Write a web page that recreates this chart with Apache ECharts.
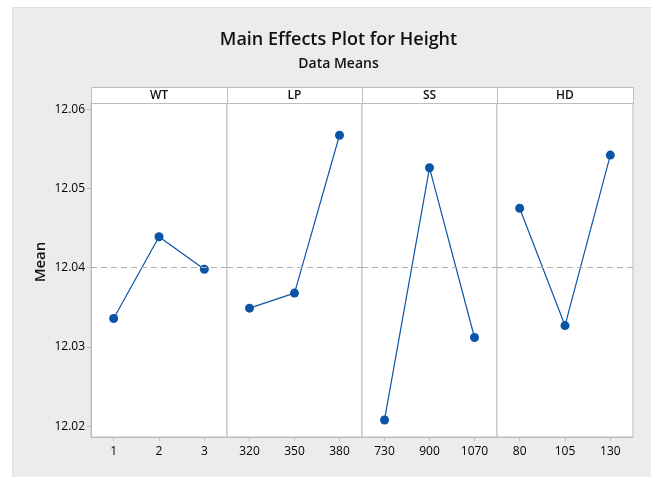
<!DOCTYPE html>
<html>
<head>
<meta charset="utf-8">
<script src="https://cdn.jsdelivr.net/npm/echarts@6/dist/echarts.min.js"></script>
<style>
  html, body { margin: 0; padding: 0; background: #ffffff; }
  #chart { width: 651px; height: 477px; }
</style>
</head>
<body>
<div id="chart"></div>
<script>
// Factors and their levels
const factors = ['WT', 'LP', 'SS', 'HD'];
const wtLevels = ['1', '2', '3'];
const lpLevels = ['320', '350', '380'];
const ssLevels = ['730', '900', '1070'];
const hdLevels = ['80', '105', '130'];

// Mean of Height at each level
const wtMeans = [12.0336, 12.0439, 12.0398];
const lpMeans = [12.0349, 12.0368, 12.0567];
const ssMeans = [12.0208, 12.0526, 12.0312];
const hdMeans = [12.0475, 12.0327, 12.0542];

// Overall mean (reference line)
const grandMean = 12.0408;

// Y tick labels
const yTicks = [12.02, 12.03, 12.04, 12.05, 12.06];

const levels = [wtLevels, lpLevels, ssLevels, hdLevels];
const means = [wtMeans, lpMeans, ssMeans, hdMeans];

const panelLeft = [91, 227, 362, 497];
const panelWidth = [136, 135, 135, 136];
const plotTop = 103;
const plotHeight = 334;
const stripTop = 87;
const stripH = 16;
const yMin = 12.01865, yMax = 12.06077;

const FONT = '"Open Sans", "Noto Sans", sans-serif';
const gridColor = '#bdbdbd';
const lineColor = '#0b55a8';

const grids = [], xAxes = [], yAxes = [], series = [], graphics = [];

factors.forEach(function (name, i) {
  grids.push({
    left: panelLeft[i], top: plotTop, width: panelWidth[i], height: plotHeight,
    show: true, backgroundColor: '#ffffff', borderColor: gridColor, borderWidth: 1
  });
  xAxes.push({
    type: 'category', gridIndex: i, data: levels[i], boundaryGap: true,
    axisLine: { show: true, lineStyle: { color: gridColor } },
    axisTick: { show: true, alignWithLabel: true, length: 4, lineStyle: { color: gridColor } },
    axisLabel: { color: '#000', fontSize: 12, fontFamily: FONT, margin: 9 },
    splitLine: { show: false }
  });
  yAxes.push({
    type: 'value', gridIndex: i, min: yMin, max: yMax,
    axisLine: { show: i === 0, lineStyle: { color: gridColor } },
    axisTick: { show: i === 0, length: 4, lineStyle: { color: gridColor }, customValues: yTicks },
    axisLabel: {
      show: i === 0, color: '#000', fontSize: 12, fontFamily: FONT, margin: 6,
      customValues: yTicks,
      formatter: function (v) { return v.toFixed(2); }
    },
    splitLine: { show: false }
  });
  series.push({
    type: 'line', xAxisIndex: i, yAxisIndex: i, data: means[i],
    symbol: 'circle', symbolSize: 9,
    lineStyle: { color: lineColor, width: 1.2 },
    itemStyle: { color: lineColor },
    silent: true, animation: false,
    markLine: {
      silent: true, symbol: 'none', label: { show: false },
      lineStyle: { color: '#b0b0b0', type: [6, 4], width: 1 },
      data: [{ yAxis: grandMean }]
    }
  });
  // Factor strip above each panel
  graphics.push({
    type: 'rect',
    shape: { x: panelLeft[i] + 0.5, y: stripTop + 0.5, width: panelWidth[i], height: stripH },
    style: { fill: '#ffffff', stroke: gridColor, lineWidth: 1 }
  });
  graphics.push({
    type: 'text', x: panelLeft[i] + panelWidth[i] / 2, y: stripTop + stripH / 2 + 1,
    style: { text: name, fill: '#111', font: '600 12px ' + FONT, textAlign: 'center', textVerticalAlign: 'middle' }
  });
});

// Gray panel backdrop
graphics.unshift({
  type: 'rect', z: -10,
  shape: { x: 12.5, y: 7.5, width: 640, height: 472 },
  style: { fill: '#ececec', stroke: '#dedede', lineWidth: 1 }
});

graphics.push({
  type: 'text', x: 338.5, y: 40,
  style: { text: 'Main Effects Plot for Height', fill: '#111', font: '600 18px ' + FONT, textAlign: 'center', textVerticalAlign: 'middle' }
});
graphics.push({
  type: 'text', x: 338.5, y: 64,
  style: { text: 'Data Means', fill: '#111', font: '600 14px ' + FONT, textAlign: 'center', textVerticalAlign: 'middle' }
});
graphics.push({
  type: 'text', x: 41, y: 262, rotation: Math.PI / 2,
  style: { text: 'Mean', fill: '#111', font: '600 15px ' + FONT, textAlign: 'center', textVerticalAlign: 'middle' }
});

const chart = echarts.init(document.getElementById('chart'), null, { renderer: 'canvas' });
chart.setOption({
  animation: false,
  backgroundColor: '#ffffff',
  grid: grids,
  xAxis: xAxes,
  yAxis: yAxes,
  series: series,
  graphic: graphics
});
</script>
</body>
</html>
